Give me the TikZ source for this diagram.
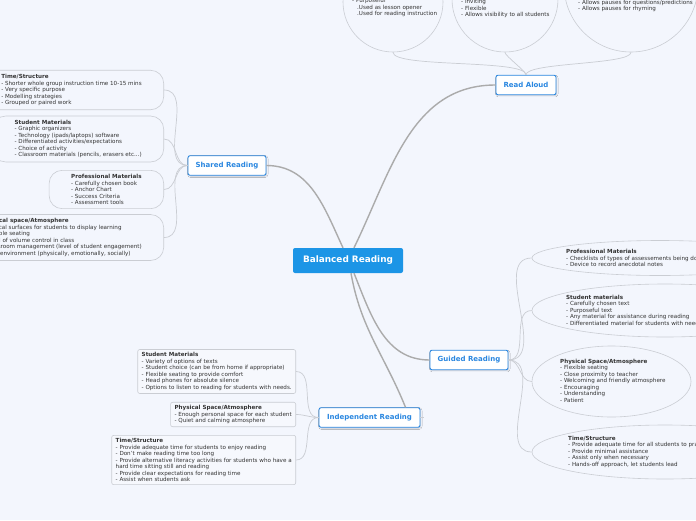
\documentclass[tikz,border=0pt]{standalone}
\usepackage{fontspec}
\setmainfont{DejaVu Sans}
\setsansfont{DejaVu Sans}
\usepackage{xcolor}
\usepackage{tikz}
\usetikzlibrary{arrows.meta,positioning,shapes.geometric,shadows.blur}
\definecolor{paper}{HTML}{F3F6FD}
\definecolor{ink}{HTML}{333333}
\definecolor{hub}{HTML}{1C95E6}
\definecolor{topicblue}{HTML}{2A87E0}
\definecolor{branch}{HTML}{ABABAB}
\definecolor{twig}{HTML}{CACDD3}
\definecolor{boxfill}{HTML}{F6F8FD}
\tikzset{
  font=\sffamily,
  txt/.style={font=\fontsize{5.6}{6.5}\selectfont\sffamily, text=ink, align=left, inner sep=0pt},
  hubbox/.style={rounded corners=2pt, fill=hub, text=white, inner sep=0pt,
    font=\fontsize{8.9}{10}\selectfont\bfseries, minimum width=110pt, minimum height=25pt},
  topic/.style={rounded corners=2pt, draw=topicblue, line width=0.9pt, fill=white,
    text=topicblue, inner sep=0pt, font=\fontsize{7}{8}\selectfont\bfseries,
    minimum height=19.5pt,
    blur shadow={shadow xshift=0.8pt, shadow yshift=-1pt, shadow blur radius=1.2pt,
      shadow blur steps=4, shadow opacity=18}},
  bubble/.style={txt, rounded corners=13pt, draw=twig, line width=0.6pt, fill=paper,
    inner xsep=22pt, inner ysep=4pt},
  notebox/.style={txt, rounded corners=2pt, draw=twig, line width=0.6pt, fill=boxfill,
    inner xsep=4pt, inner ysep=3pt},
  blob/.style={ellipse, draw=twig, line width=0.6pt, fill=paper, inner sep=0pt},
  disc/.style={circle, draw=twig, line width=0.6pt, fill=paper, inner sep=0pt},
  limb/.style={draw=branch, line width=1.4pt},
  twigline/.style={draw=twig, line width=0.7pt}
}
\newcommand{\head}[1]{\textbf{#1}}

\begin{document}
\begin{tikzpicture}[x=1pt,y=-1pt]
  \fill[paper] (0,0) rectangle (696,520);
  \clip (0,0) rectangle (696,520);

  \node[hubbox] (bal) at (348,260.5) {Balanced Reading};
  \node[topic, minimum width=60pt]  (ra) at (526,85)    {Read Aloud};
  \node[topic, minimum width=78pt]  (sr) at (227,165.5) {Shared Reading};
  \node[topic, minimum width=78pt]  (gr) at (469,360)   {Guided Reading};
  \node[topic, minimum width=101pt] (ir) at (369.5,417.5) {Independent Reading};

  \draw[limb] ([xshift=-5pt]bal.north) to[out=115,in=0]  (sr.east);
  \draw[limb] ([xshift=6pt]bal.north)  to[out=64,in=180] (ra.west);
  \draw[limb] ([xshift=6pt]bal.south)  to[out=-68,in=180] (gr.west);
  \draw[limb] ([xshift=3pt]bal.south)  to[out=-80,in=112] ([xshift=36pt]ir.north);

  % read aloud
  \node[disc, minimum size=100pt] (ra1) at (393,2)   {};
  \node[disc, minimum size=106pt] (ra2) at (505,-1)  {};
  \node[disc, minimum size=134pt] (ra3) at (631,-15) {};
  \node[txt, anchor=north west] (ra1t) at (352,-1.5) {- Purposeful\\\hspace*{5pt}.Used as lesson opener\\\hspace*{5pt}.Used for reading instruction};
  \node[txt, anchor=north west] (ra2t) at (461,-0.5) {- Inviting\\- Flexible\\- Allows visibility to all students};
  \node[txt, anchor=north west] (ra3t) at (578,0) {- Allows pauses for questions/predictions\\- Allows pauses for rhyming};
  \foreach \c in {ra1,ra2,ra3}
    \draw[twigline] (ra.north) to[out=90,in=-90,looseness=0.3] (\c.south);

  % shared reading
  \node[bubble, anchor=east] (sr1) at (164,90)    {\head{Time/Structure}\\- Shorter whole group instruction time 10-15 mins\\- Very specific purpose\\- Modelling strategies\\- Grouped or paired work};
  \node[bubble, anchor=east] (sr2) at (164,139)   {\head{Student Materials}\\- Graphic organizers\\- Technology (ipads/laptops) software\\- Differentiated activities/expectations\\- Choice of activity\\- Classroom materials (pencils, erasers etc...)};
  \node[bubble, anchor=east] (sr3) at (164,189.5) {\head{Professional Materials}\\- Carefully chosen book\\- Anchor Chart\\- Success Criteria\\- Assessment tools};
  \node[bubble, anchor=east] (sr4) at (164,237.5) {\head{Physical space/Atmosphere}\\- Vertical surfaces for students to display learning\\- Flexible seating\\- Level of volume control in class\\- Classroom management (level of student engagement)\\- Safe environment (physically, emotionally, socially)};
  \foreach \c in {sr1,sr2,sr3,sr4}
    \draw[twigline] (sr.west) to[out=180,in=0] (\c.east);

  % guided reading
  \node[blob, minimum width=256pt, minimum height=35pt] (gr1) at (660,258)   {};
  \node[blob, minimum width=266pt, minimum height=53pt] (gr2) at (665,310.5) {};
  \node[blob, minimum width=159pt, minimum height=71pt] (gr3) at (611.5,381.5) {};
  \node[blob, minimum width=266pt, minimum height=54pt] (gr4) at (665,452)   {};
  \node[txt, anchor=north west] (gr1t) at (566,249.5) {\head{Professional Materials}\\- Checklists of types of assessements being done\\- Device to record anecdotal notes};
  \node[txt, anchor=north west] (gr2t) at (566,295) {\head{Student materials}\\- Carefully chosen text\\- Purposeful text\\- Any material for assistance during reading\\- Differentiated material for students with needs};
  \node[txt, anchor=north west] (gr3t) at (560,359) {\head{Physical Space/Atmosphere}\\- Flexible seating\\- Close proximity to teacher\\- Welcoming and friendly atmosphere\\- Encouraging\\- Understanding\\- Patient};
  \node[txt, anchor=north west] (gr4t) at (568,436) {\head{Time/Structure}\\- Provide adequate time for all students to practice\\- Provide minimal assistance\\- Assist only when necessary\\- Hands-off approach, let students lead};
  \foreach \c in {gr1,gr2,gr3,gr4}
    \draw[twigline] (gr.east) to[out=0,in=180] (\c.west);

  % independent reading
  \node[notebox, anchor=east] (ir1) at (296,371.5) {\head{Student Materials}\\- Variety of options of texts\\- Student choice (can be from home if appropriate)\\- Flexible seating to provide comfort\\- Head phones for absolute silence\\- Options to listen to reading for students with needs.};
  \node[notebox, anchor=east] (ir2) at (296,414.5) {\head{Physical Space/Atmosphere}\\- Enough personal space for each student\\- Quiet and calming atmosphere};
  \node[notebox, anchor=east] (ir3) at (296,460)   {\head{Time/Structure}\\- Provide adequate time for students to enjoy reading\\- Don't make reading time too long\\- Provide alternative literacy activities for students who have a\\hard time sitting still and reading\\- Provide clear expectations for reading time\\- Assist when students ask};
  \foreach \c in {ir1,ir2,ir3}
    \draw[twigline] (ir.west) to[out=180,in=0] (\c.east);
  \coordinate (irend) at (424,417.5);
  \draw[twigline] (ir.east) -- (irend);
\end{tikzpicture}
\end{document}
